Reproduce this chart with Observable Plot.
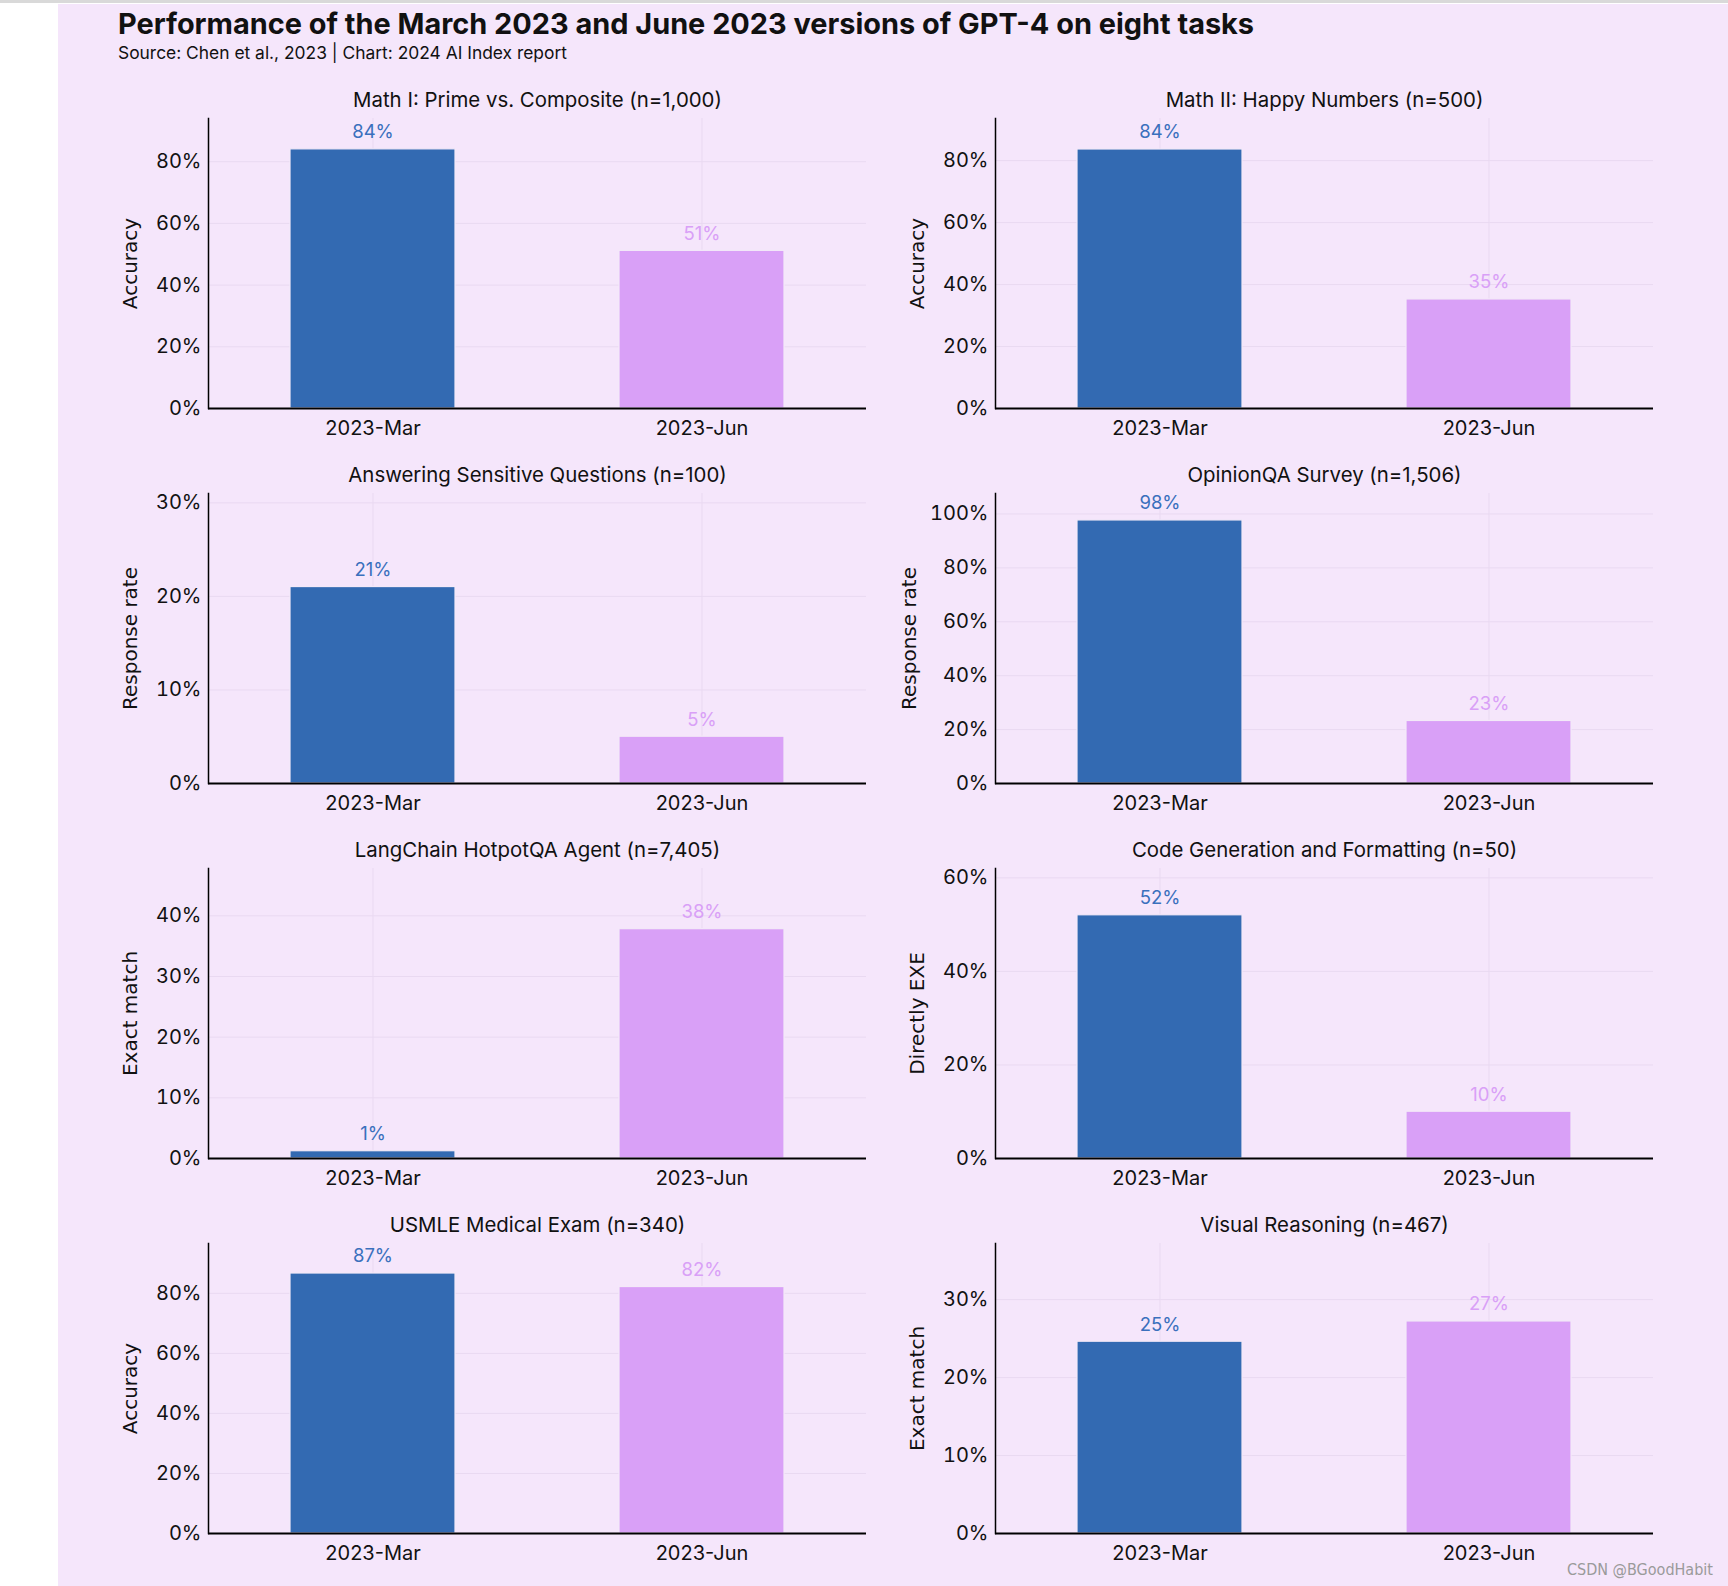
<!DOCTYPE html>
<html>
<head>
<meta charset="utf-8">
<script src="https://cdn.jsdelivr.net/npm/d3@7"></script>
<script src="https://cdn.jsdelivr.net/npm/@observablehq/plot@0.6"></script>
<style>
  html, body { margin: 0; padding: 0; background: #ffffff; }
  #page { position: relative; width: 1728px; height: 1586px; overflow: hidden; background: #ffffff; font-family: Inter, "Noto Sans", sans-serif; }
  #topline { position: absolute; left: 0; top: 0; width: 1728px; height: 3px; background: #d9d9d9; }
  #bg { position: absolute; left: 58px; top: 4px; right: 0; bottom: 0; background: #f5e6fb; }
  #title { position: absolute; left: 118px; top: 6px; font-size: 28.9px; font-weight: 700; color: #111; white-space: nowrap; }
  #subtitle { position: absolute; left: 118px; top: 42px; font-size: 17.4px; color: #111; white-space: nowrap; }
  #watermark { position: absolute; left: 1567px; top: 1560px; font-size: 16px; color: #9a9a9a; white-space: nowrap; font-family: "Liberation Sans Narrow", "DejaVu Sans Condensed", sans-serif; }
  .panel { position: absolute; }
</style>
</head>
<body>
<div id="page">
  <div id="topline"></div>
  <div id="bg"></div>
  <div id="title">Performance of the March 2023 and June 2023 versions of GPT-4 on eight tasks</div>
  <div id="subtitle">Source: Chen et al., 2023 | Chart: 2024 AI Index report</div>
  <div id="watermark">CSDN @BGoodHabit</div>
</div>
<script>
// ---- data ----
const taskTitles = [
  "Math I: Prime vs. Composite (n=1,000)",
  "Math II: Happy Numbers (n=500)",
  "Answering Sensitive Questions (n=100)",
  "OpinionQA Survey (n=1,506)",
  "LangChain HotpotQA Agent (n=7,405)",
  "Code Generation and Formatting (n=50)",
  "USMLE Medical Exam (n=340)",
  "Visual Reasoning (n=467)"
];
const metricLabels = [
  "Accuracy", "Accuracy", "Response rate", "Response rate",
  "Exact match", "Directly EXE", "Accuracy", "Exact match"
];
const versions = ["2023-Mar", "2023-Jun"];
const marchValues = [84.0, 83.6, 21.0, 97.6, 1.2, 52.0, 86.6, 24.6];
const juneValues  = [51.1, 35.2, 5.0, 23.2, 37.8, 10.0, 82.1, 27.2];

const barColors = ["#336ab2", "#d9a0f7"];
const labelColors = ["#3a70bd", "#d9a0f7"];

// ---- layout ----
const colPlotLeft = [208, 995];
const rowPlotTop = [118, 493, 868, 1243];
const plotW = 658, plotH = 290;
const mL = 130, mR = 20, mT = 45, mB = 50;

const page = document.getElementById("page");
const font = 'Inter, "Noto Sans", sans-serif';

taskTitles.forEach((title, i) => {
  const col = i % 2, row = Math.floor(i / 2);
  const data = versions.map((v, k) => ({version: v, value: k === 0 ? marchValues[i] : juneValues[i]}));
  const maxV = d3.max(data, d => d.value);
  const labelOffset = (maxV + 10) >= 100 ? 86 : 78;

  const chart = Plot.plot({
    width: plotW + mL + mR,
    height: plotH + mT + mB,
    marginLeft: mL, marginRight: mR, marginTop: mT, marginBottom: mB,
    style: {background: "transparent", fontFamily: font, fontSize: "20px", color: "#111"},
    x: {domain: versions, paddingInner: 0.5, paddingOuter: 0.25, label: null},
    y: {domain: [0, maxV + 10], label: null},
    color: {domain: versions, range: barColors},
    marks: [
      Plot.gridY({ticks: 4, stroke: "#e9d9f1", strokeOpacity: 1, strokeWidth: 1}),
      Plot.gridX({stroke: "#e9d9f1", strokeOpacity: 1, strokeWidth: 1}),
      Plot.barY(data, {x: "version", y: "value", fill: "version", stroke: "#f3e9f8", strokeWidth: 1.2}),
      Plot.text(data, {x: "version", y: "value", text: d => Math.round(d.value) + "%",
        fill: (d) => labelColors[versions.indexOf(d.version)], dy: -17, fontSize: 18.5}),
      Plot.axisY({ticks: 4, tickSize: 0, tickPadding: 7, tickFormat: d => d + "%", label: null, fontSize: 20}),
      Plot.axisX({tickSize: 0, tickPadding: 12, label: null, fontSize: 20}),
      Plot.frame({anchor: "left", stroke: "#000", strokeWidth: 1.5}),
      Plot.ruleY([0], {stroke: "#000", strokeWidth: 2}),
      Plot.text([metricLabels[i]], {frameAnchor: "left", rotate: -90, dx: -labelOffset,
        textAnchor: "middle", lineAnchor: "middle",
        fontFamily: '"DejaVu Sans", sans-serif', fontSize: 20, fill: "#111"}),
      Plot.text([title], {frameAnchor: "top", dy: -26, fontSize: 20.4, fill: "#111"})
    ]
  });
  chart.classList.add("panel");
  chart.style.left = (colPlotLeft[col] - mL) + "px";
  chart.style.top = (rowPlotTop[row] - mT) + "px";
  page.appendChild(chart);
});
</script>
</body>
</html>
